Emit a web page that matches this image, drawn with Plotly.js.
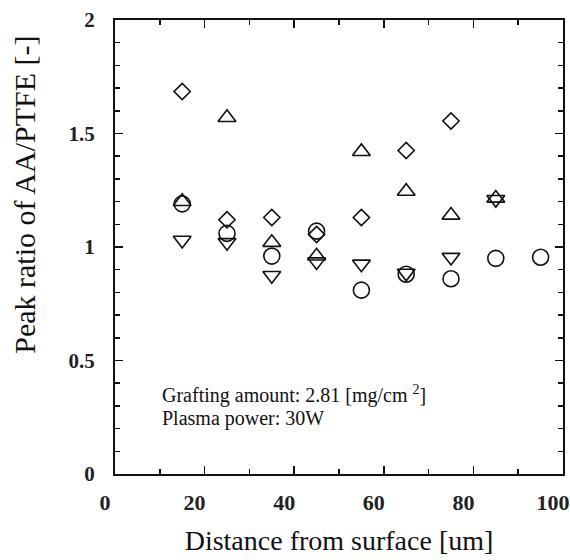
<!DOCTYPE html>
<html>
<head>
<meta charset="utf-8">
<script src="https://cdn.plot.ly/plotly-3.0.1.min.js"></script>
<style>html,body{margin:0;padding:0;background:#fff;}#chart{width:570px;height:560px;}</style>
</head>
<body>
<div id="chart"></div>
<script>
// Distance from surface [um]
const xCircle = [15, 25, 35, 45, 55, 65, 75, 85, 95];
const yCircle = [1.19, 1.06, 0.96, 1.07, 0.81, 0.88, 0.86, 0.95, 0.955];

const xTriUp = [15, 25, 35, 45, 55, 65, 75, 85];
const yTriUp = [1.20, 1.57, 1.02, 0.96, 1.42, 1.245, 1.14, 1.215];

const xTriDown = [15, 25, 35, 45, 55, 65, 75, 85];
const yTriDown = [1.03, 1.02, 0.875, 0.935, 0.925, 0.885, 0.955, 1.21];

const xDiamond = [15, 25, 35, 45, 55, 65, 75];
const yDiamond = [1.685, 1.12, 1.13, 1.055, 1.13, 1.425, 1.555];

const xTicks = [0, 20, 40, 60, 80, 100];
const yTicks = [0, 0.5, 1, 1.5, 2];

const serif = '"Liberation Serif", "Times New Roman", "DejaVu Serif", serif';

function series(x, y, symbol, size) {
  return {
    x: x, y: y, type: 'scatter', mode: 'markers', showlegend: false,
    cliponaxis: false,
    marker: {symbol: symbol, size: size, color: '#111',
             line: {color: '#111', width: 1.6}}
  };
}

const data = [
  series(xCircle, yCircle, 'circle-open', 16),
  series(xTriUp, yTriUp, 'triangle-up-open', 15.5),
  series(xTriDown, yTriDown, 'triangle-down-open', 15.5),
  series(xDiamond, yDiamond, 'diamond-open', 12.5)
];

const axisCommon = {
  showgrid: false, zeroline: false, showline: true, linecolor: '#111', linewidth: 2,
  mirror: 'ticks', ticks: 'inside', ticklen: 8, tickwidth: 1.5, tickcolor: '#111',
  tickmode: 'array'
};

const layout = {
  width: 570, height: 560,
  margin: {l: 115, r: 7, t: 20, b: 86},
  paper_bgcolor: '#fff', plot_bgcolor: '#fff',
  font: {family: serif, color: '#111'},
  xaxis: Object.assign({}, axisCommon, {
    range: [0, 100], tickvals: xTicks, ticktext: xTicks.map(v => '<b>' + v + '</b>'),
    tickfont: {family: serif, size: 22, weight: 700, color: '#222'},
    ticklabelstandoff: 8, ticklabelshift: -10, ticklabeloverflow: 'allow',
    minor: {dtick: 10, ticks: 'inside', ticklen: 5, tickwidth: 1.5, tickcolor: '#111', showgrid: false},
    title: {text: 'Distance from surface [um]', font: {family: serif, size: 28, color: '#111'}, standoff: 16}
  }),
  yaxis: Object.assign({}, axisCommon, {
    range: [0, 2], tickvals: yTicks, ticktext: yTicks.map(v => '<b>' + v + '</b>'),
    tickfont: {family: serif, size: 21, weight: 700, color: '#222'},
    ticklabelstandoff: 14, ticklabeloverflow: 'allow',
    minor: {dtick: 0.1, ticks: 'inside', ticklen: 5, tickwidth: 1.5, tickcolor: '#111', showgrid: false}
  }),
  annotations: [
    {text: 'Peak ratio of AA/PTFE [-]', textangle: -90, xref: 'paper', yref: 'y',
     x: 0, xshift: -90, y: 1.23, xanchor: 'center', yanchor: 'middle', showarrow: false,
     font: {family: serif, size: 30, color: '#111'}},
    {text: 'Grafting amount: 2.81 [mg/cm <sup>2</sup>]', xref: 'x', yref: 'y', x: 10, y: 0.352,
     xanchor: 'left', yanchor: 'middle', showarrow: false,
     font: {family: serif, size: 20, color: '#111'}},
    {text: 'Plasma power: 30W', xref: 'x', yref: 'y', x: 10, y: 0.245,
     xanchor: 'left', yanchor: 'middle', showarrow: false,
     font: {family: serif, size: 20, color: '#111'}}
  ]
};

Plotly.newPlot('chart', data, layout, {displayModeBar: false, staticPlot: true});
</script>
</body>
</html>
